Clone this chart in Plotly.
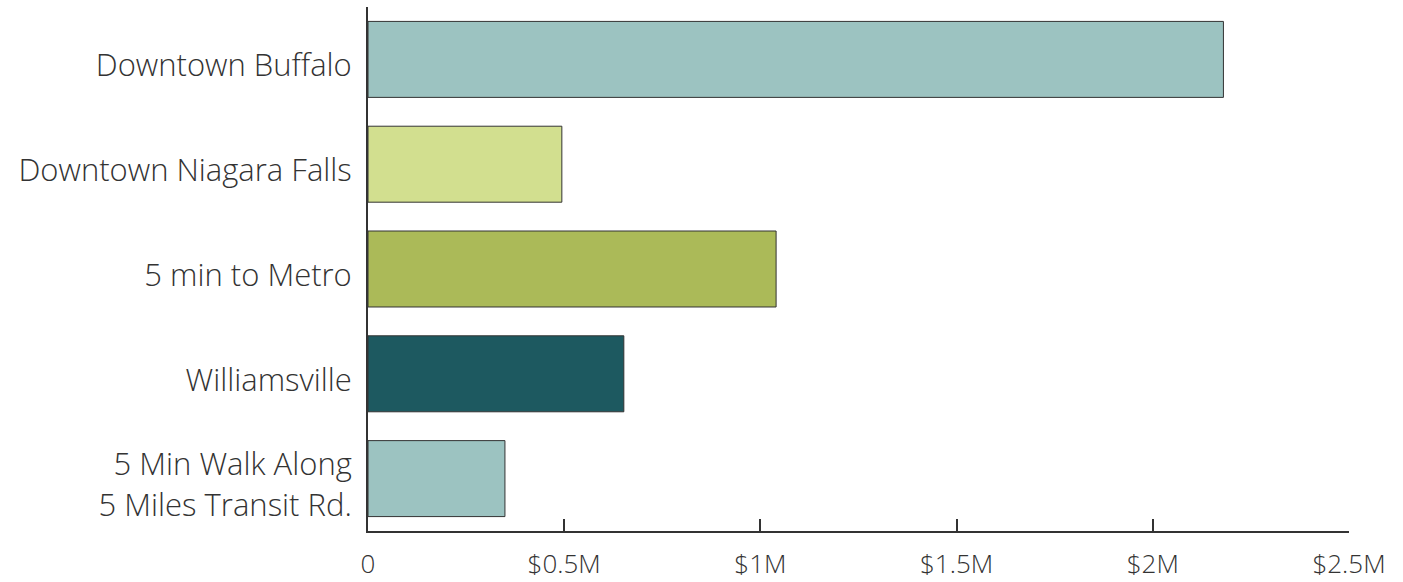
import plotly.graph_objects as go

categories = ["Downtown Buffalo", "Downtown Niagara Falls", "5 min to Metro", "Williamsville",
              "5 Min Walk Along<br>5 Miles Transit Rd."]
values = [2180000, 494000, 1040000, 652000, 349000]
colors = ["#9CC3C1", "#D2DF8F", "#ABBA58", "#1D5960", "#9CC3C1"]
tick_vals = [0, 500000, 1000000, 1500000, 2000000, 2500000]
tick_text = ["0", "$0.5M", "$1M", "$1.5M", "$2M", "$2.5M"]

fig = go.Figure(go.Bar(
    x=values, y=categories, orientation="h",
    marker=dict(color=colors, line=dict(color="#333333", width=1)),
    hoverinfo="x+y",
))

fig.update_layout(
    width=1403, height=582,
    margin=dict(l=368, r=54, t=7, b=51),
    paper_bgcolor="white", plot_bgcolor="white",
    font=dict(family="Open Sans", color="#333333", weight=300),
    bargap=0.275,
    showlegend=False,
)
fig.update_xaxes(
    range=[0, 2500000], tickvals=tick_vals, ticktext=tick_text, automargin=False,
    showgrid=False, zeroline=False, showline=True, linecolor="#333333", linewidth=2,
    ticks="inside", ticklen=12, tickwidth=2, tickcolor="#333333",
    tickfont=dict(family="Open Sans", size=26, color="#333333", weight=300), ticklabelstandoff=9,
)
fig.update_yaxes(
    autorange="reversed", showgrid=False, zeroline=False, showline=True, automargin=False,
    linecolor="#333333", linewidth=2, ticks="",
    tickfont=dict(family="Open Sans", size=31, color="#333333", weight=300), ticklabelstandoff=8,
    ticklabelshift=-6,
)

fig.write_html("out.html")
